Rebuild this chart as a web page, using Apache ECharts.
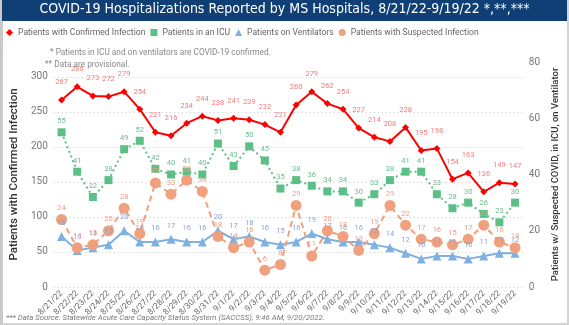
<!DOCTYPE html>
<html>
<head>
<meta charset="utf-8">
<script src="https://cdn.jsdelivr.net/npm/echarts@6/dist/echarts.min.js"></script>
<style>
  html, body { margin: 0; padding: 0; background: #fff; }
  #frame { position: relative; width: 569px; height: 325px; box-sizing: border-box;
           border-left: 3px solid #c9c9c9; border-right: 2px solid #d4d4d4; border-bottom: 2px solid #d4d4d4; }
  #chart { position: absolute; left: -3px; top: 0; width: 569px; height: 325px; }
</style>
</head>
<body>
<div id="frame"><div id="chart"></div></div>
<script>
// Reporting days
const dates = ['8/21/22','8/22/22','8/23/22','8/24/22','8/25/22','8/26/22','8/27/22','8/28/22','8/29/22','8/30/22',
  '8/31/22','9/1/22','9/2/22','9/3/22','9/4/22','9/5/22','9/6/22','9/7/22','9/8/22','9/9/22',
  '9/10/22','9/11/22','9/12/22','9/13/22','9/14/22','9/15/22','9/16/22','9/17/22','9/18/22','9/19/22'];

// Left axis
const confirmed = [267,286,273,272,279,254,221,216,234,244,238,241,239,232,221,260,279,262,254,227,
  214,208,228,195,198,154,163,136,149,147];

// Right axis
const icu = [55,41,32,38,49,52,42,40,41,40,51,43,50,45,35,38,36,34,34,30,33,38,41,41,33,28,30,26,23,30];
const ventilators = [18,13,14,15,20,16,16,17,16,16,20,17,18,16,15,16,19,17,16,16,15,14,12,10,11,11,10,11,12,12];
const suspected = [24,14,15,20,28,19,37,33,38,34,18,14,16,6,8,29,11,20,18,13,19,29,22,17,16,15,17,22,16,14];

const leftTicks = [0,50,100,150,200,250,300];
const rightTicks = [0,20,40,60,80];

const FONT = 'Roboto, "Noto Sans", sans-serif';

const chart = echarts.init(document.getElementById('chart'), null, { renderer: 'canvas' });

function lbl(color, dist) {
  return { show: true, position: 'top', distance: dist, color: color, fontSize: 7.5, fontFamily: FONT };
}

chart.setOption({
  animation: false,
  graphic: [
    { type: 'rect', shape: { x: 2, y: 0, width: 565, height: 21 }, style: { fill: '#0f3f74' }, z: 0 }
  ],
  title: [
    { text: 'COVID-19 Hospitalizations Reported by MS Hospitals, 8/21/22-9/19/22 *,**,***',
      left: 'center', top: 2, padding: 0,
      textStyle: { color: '#ffffff', fontSize: 14, fontWeight: 'normal', fontFamily: '"DejaVu Sans Condensed", sans-serif' } },
    { text: '* Patients in ICU and on ventilators are COVID-19 confirmed.', left: 50, top: 49, padding: 0,
      textStyle: { color: '#8a8a8a', fontSize: 8.3, fontWeight: 'normal', fontFamily: FONT } },
    { text: '** Data are provisional.', left: 45, top: 61, padding: 0,
      textStyle: { color: '#8a8a8a', fontSize: 8.3, fontWeight: 'normal', fontFamily: FONT } },
    { text: '*** Data Source: Statewide Acute Care Capacity Status System (SACCSS), 9:46 AM, 9/20/2022.',
      left: 6, top: 314, padding: 0,
      textStyle: { color: '#7a7a7a', fontSize: 7.8, fontStyle: 'italic', fontWeight: 'normal', fontFamily: FONT } }
  ],
  legend: {
    left: 6, top: 28, itemGap: 5, itemWidth: 7, itemHeight: 7, padding: 0,
    textStyle: { color: '#666', fontSize: 8.6, fontFamily: FONT },
    data: [
      { name: 'Patients with Confirmed Infection', icon: 'diamond' },
      { name: 'Patients in an ICU', icon: 'rect' },
      { name: 'Patients on Ventilators', icon: 'triangle' },
      { name: 'Patients with Suspected Infection', icon: 'circle' }
    ]
  },
  grid: { left: 43, right: 33, top: 62, bottom: 38 },
  xAxis: {
    type: 'category', data: dates, boundaryGap: true,
    axisLine: { show: false }, axisTick: { show: false },
    axisLabel: { rotate: 45, interval: 0, fontSize: 8.5, color: '#6a6a6a', fontFamily: FONT, margin: 5 }
  },
  yAxis: [
    { type: 'value', min: 0, max: 321.4, interval: 50,
      name: 'Patients with Confirmed Infection', nameLocation: 'middle', nameGap: 24,
      nameTextStyle: { fontSize: 11.5, color: '#333', fontFamily: FONT, fontWeight: 500 },
      axisLine: { show: false }, axisTick: { show: false },
      axisLabel: { showMaxLabel: false, fontSize: 10, color: '#777', fontFamily: FONT, margin: 6,
        formatter: v => leftTicks.includes(v) ? String(v) : '' },
      splitLine: { show: true, showMaxLine: false, lineStyle: { type: [1, 3], color: '#c8c8c8', width: 1 } } },
    { type: 'value', min: 0, max: 80, interval: 20, position: 'right',
      name: 'Patients w/ Suspected COVID, in ICU, on Ventilator', nameLocation: 'middle', nameGap: 22,
      nameRotate: 90,
      nameTextStyle: { fontSize: 9.5, color: '#333', fontFamily: FONT, fontWeight: 500 },
      axisLine: { show: false }, axisTick: { show: false },
      axisLabel: { fontSize: 10, color: '#777', fontFamily: FONT, margin: 6,
        formatter: v => rightTicks.includes(v) ? String(v) : '' },
      splitLine: { show: false } }
  ],
  series: [
    { name: 'Patients with Confirmed Infection', type: 'line', yAxisIndex: 0, data: confirmed,
      symbol: 'diamond', symbolSize: 7, color: '#ff0000',
      lineStyle: { color: '#ff0000', width: 2 }, itemStyle: { color: '#ff0000' },
      label: lbl('#f47a7a', 10), z: 4 },
    { name: 'Patients in an ICU', type: 'line', yAxisIndex: 1, data: icu,
      symbol: 'rect', symbolSize: 8, color: '#5cbf85',
      lineStyle: { color: '#5cbf85', width: 2, type: [2, 3] }, itemStyle: { color: '#5cbf85' },
      label: lbl('#6cbd8c', 3), z: 3 },
    { name: 'Patients on Ventilators', type: 'line', yAxisIndex: 1, data: ventilators,
      symbol: 'triangle', symbolSize: 9, color: '#7fb0e2',
      lineStyle: { color: '#7fb0e2', width: 2 }, itemStyle: { color: '#7fb0e2' },
      label: lbl('#8aa3d6', 5), z: 3 },
    { name: 'Patients with Suspected Infection', type: 'line', yAxisIndex: 1, data: suspected,
      symbol: 'circle', symbolSize: 11, color: '#f0a07c',
      lineStyle: { color: '#f0a07c', width: 2, type: [6, 4] }, itemStyle: { color: '#f0a07c' },
      label: lbl('#f29c80', 2), z: 3 }
  ]
});
</script>
</body>
</html>
